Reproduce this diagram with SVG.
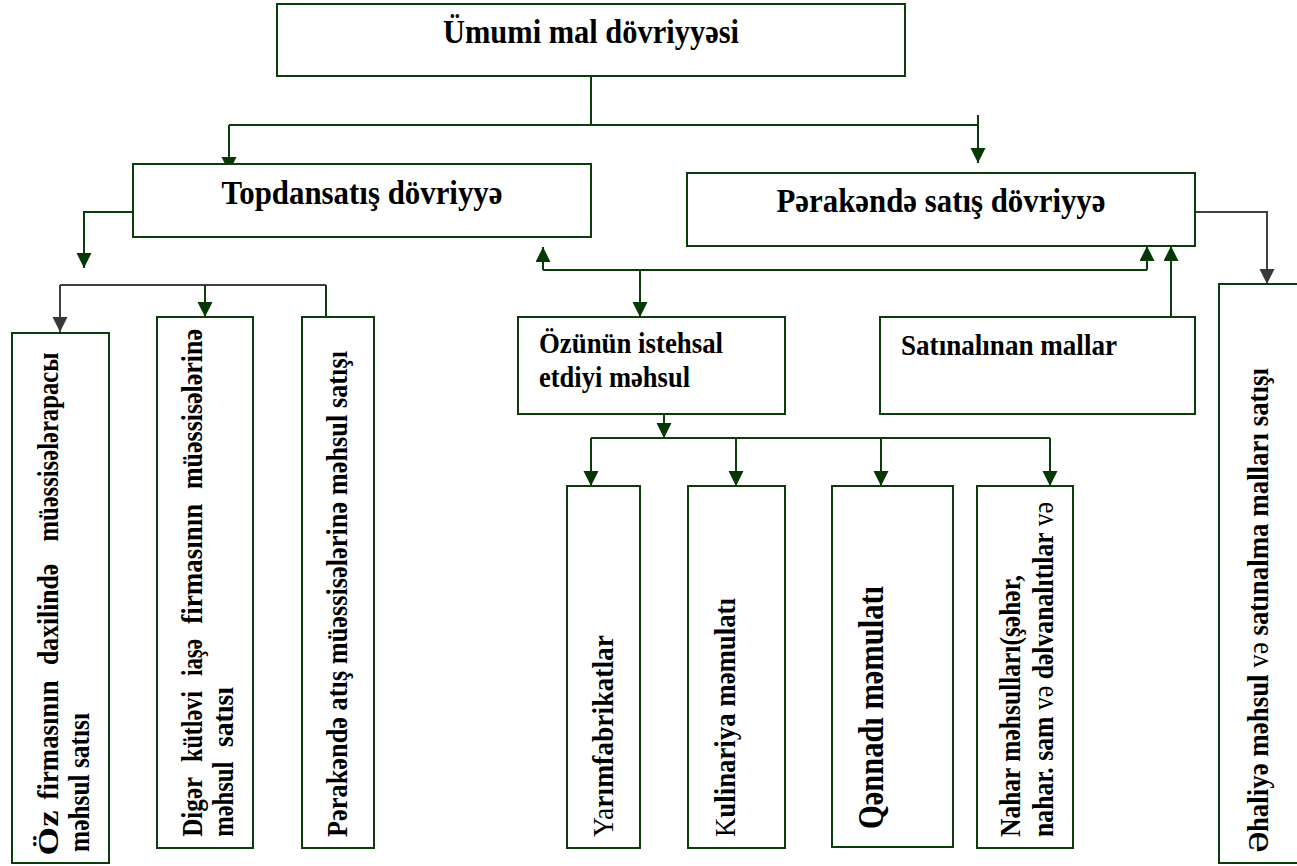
<svg xmlns="http://www.w3.org/2000/svg" width="1297" height="866" viewBox="0 0 1297 866">
<style>
.box{fill:#fff;stroke:#0b3d0b;stroke-width:2}
.ln{fill:none;stroke:#0b3d0b;stroke-width:2}
.lg{fill:none;stroke:#404040;stroke-width:2}
.t{font-family:"Liberation Serif","Times New Roman",serif;font-weight:bold;fill:#000}
.h{font-size:34px}
.m{font-size:29px}
.r{font-size:30px}
.q{font-size:35px}
.n{font-weight:normal}
</style>
<defs>
<marker id="ag" markerUnits="userSpaceOnUse" markerWidth="16" markerHeight="16" refX="15" refY="7.5" orient="auto"><path d="M0,0 L15,7.5 L0,15 z" fill="#063806"/></marker>
<marker id="ay" markerUnits="userSpaceOnUse" markerWidth="16" markerHeight="16" refX="15" refY="7.5" orient="auto"><path d="M0,0 L15,7.5 L0,15 z" fill="#383838"/></marker>
</defs>
<rect width="1297" height="866" fill="#fff"/>
<g id="connectors">
<path class="ln" d="M591,76 V125"/>
<path class="ln" d="M229,125 H978"/>
<path class="ln" d="M229,125 V172" marker-end="url(#ag)"/>
<path class="ln" d="M978,115 V163" marker-end="url(#ag)"/>
<path class="ln" d="M132,212 H84 V268" marker-end="url(#ag)"/>
<path class="lg" d="M60,285 H326"/>
<path class="lg" d="M60,285 V332" marker-end="url(#ay)"/>
<path class="ln" d="M205,285 V317" marker-end="url(#ag)"/>
<path class="ln" d="M326,285 V332" marker-end="url(#ag)"/>
<path class="ln" d="M543,270 H1147"/>
<path class="ln" d="M543,270 V247" marker-end="url(#ag)"/>
<path class="ln" d="M1147,270 V246" marker-end="url(#ag)"/>
<path class="ln" d="M640,270 V317" marker-end="url(#ag)"/>
<path class="ln" d="M1171,317 V246" marker-end="url(#ag)"/>
<path class="lg" d="M1195,212 H1267 V284" marker-end="url(#ay)"/>
<path class="ln" d="M664,414 V438" marker-end="url(#ag)"/>
<path class="ln" d="M591,438 H1050"/>
<path class="ln" d="M591,438 V486" marker-end="url(#ag)"/>
<path class="ln" d="M736,438 V486" marker-end="url(#ag)"/>
<path class="ln" d="M881,438 V486" marker-end="url(#ag)"/>
<path class="ln" d="M1050,438 V486" marker-end="url(#ag)"/>
</g>
<g id="n-umumi">
<rect class="box" x="277" y="4" width="628" height="72"/>
<text class="t h" x="591" y="43" text-anchor="middle" textLength="296" lengthAdjust="spacingAndGlyphs">Ümumi mal dövriyyəsi</text>
</g>
<g id="n-topdan">
<rect class="box" x="133" y="164" width="458" height="73"/>
<text class="t h" x="362" y="204" text-anchor="middle" textLength="281" lengthAdjust="spacingAndGlyphs">Topdansatış dövriyyə</text>
</g>
<g id="n-perakende">
<rect class="box" x="687" y="173" width="508" height="73"/>
<text class="t h" x="941" y="212" text-anchor="middle" textLength="329" lengthAdjust="spacingAndGlyphs">Pərakəndə satış dövriyyə</text>
</g>
<g id="n-oz">
<rect class="box" x="12" y="333" width="97" height="530"/>
<text class="t r" transform="translate(58,855.5) rotate(-90)" textLength="45" lengthAdjust="spacingAndGlyphs">Öz</text>
<text class="t r" transform="translate(58,799.4) rotate(-90)" textLength="119" lengthAdjust="spacingAndGlyphs">firmasının</text>
<text class="t r" transform="translate(58,664.9) rotate(-90)" textLength="101" lengthAdjust="spacingAndGlyphs">daxilində</text>
<text class="t r" transform="translate(58,541.6) rotate(-90)" textLength="189" lengthAdjust="spacingAndGlyphs">müəssisələrарасы</text>
<text class="t r" transform="translate(89,852) rotate(-90)" textLength="139" lengthAdjust="spacingAndGlyphs">məhsul satısı</text>
</g>
<g id="n-diger">
<rect class="box" x="157" y="317" width="96" height="531"/>
<text class="t r" transform="translate(201.7,836.8) rotate(-90)" textLength="60" lengthAdjust="spacingAndGlyphs">Digər</text>
<text class="t r" transform="translate(201.7,762) rotate(-90)" textLength="71" lengthAdjust="spacingAndGlyphs">kütləvi</text>
<text class="t r" transform="translate(201.7,676) rotate(-90)" textLength="37" lengthAdjust="spacingAndGlyphs">iaşə</text>
<text class="t r" transform="translate(201.7,623.8) rotate(-90)" textLength="120" lengthAdjust="spacingAndGlyphs">firmasının</text>
<text class="t r" transform="translate(201.7,489) rotate(-90)" textLength="160" lengthAdjust="spacingAndGlyphs">müəssisələrinə</text>
<text class="t r" transform="translate(233,836.8) rotate(-90)" textLength="75" lengthAdjust="spacingAndGlyphs">məhsul</text>
<text class="t r" transform="translate(233,747) rotate(-90)" textLength="60" lengthAdjust="spacingAndGlyphs">satısı</text>
</g>
<g id="n-perakende-satis">
<rect class="box" x="302" y="317" width="72" height="531"/>
<text class="t r" transform="translate(346.7,837) rotate(-90)" textLength="486" lengthAdjust="spacingAndGlyphs">Pərakəndə atış müəssisələrinə məhsul satışı</text>
</g>
<g id="n-ozunun">
<rect class="box" x="518" y="317" width="267" height="97"/>
<text class="t m" x="539" y="353" textLength="184" lengthAdjust="spacingAndGlyphs">Özünün istehsal</text>
<text class="t m" x="539" y="386.5" textLength="151" lengthAdjust="spacingAndGlyphs">etdiyi məhsul</text>
</g>
<g id="n-satinalinan">
<rect class="box" x="880" y="317" width="315" height="97"/>
<text class="t m" x="901" y="355" textLength="216" lengthAdjust="spacingAndGlyphs">Satınalınan mallar</text>
</g>
<g id="n-yarim">
<rect class="box" x="567" y="486" width="73" height="362"/>
<text class="t r" transform="translate(613,837) rotate(-90)" textLength="202" lengthAdjust="spacingAndGlyphs"><tspan class="n">Ya</tspan>rımfabrikatlar</text>
</g>
<g id="n-kulinariya">
<rect class="box" x="688" y="486" width="97" height="362"/>
<text class="t r" transform="translate(735,837) rotate(-90)" textLength="239" lengthAdjust="spacingAndGlyphs"><tspan class="n">K</tspan>ulinariya məmulatı</text>
</g>
<g id="n-qennadi">
<rect class="box" x="832" y="486" width="121" height="361"/>
<text class="t q" transform="translate(883,829) rotate(-90)" textLength="243" lengthAdjust="spacingAndGlyphs">Qənnadı məmulatı</text>
</g>
<g id="n-nahar">
<rect class="box" x="977" y="486" width="96" height="362"/>
<text class="t r" transform="translate(1020,837) rotate(-90)" textLength="262" lengthAdjust="spacingAndGlyphs">Nahar məhsulları(şəhər,</text>
<text class="t r" transform="translate(1053,837) rotate(-90)" textLength="335" lengthAdjust="spacingAndGlyphs">nahar. sam <tspan class="n">və</tspan> dəlvanalıtılar <tspan class="n">və</tspan></text>
</g>
<g id="n-ehali">
<rect class="box" x="1219" y="284" width="90" height="579"/>
<text class="t r" transform="translate(1268,852) rotate(-90)" textLength="484" lengthAdjust="spacingAndGlyphs">Əhaliyə məhsul <tspan class="n">və</tspan> satınalma malları satışı</text>
</g>
</svg>
